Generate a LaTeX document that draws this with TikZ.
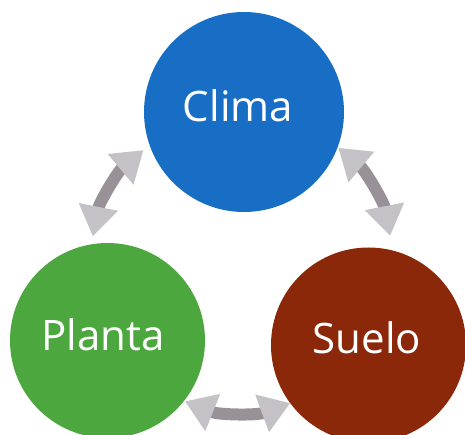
\documentclass[tikz,border=0pt]{standalone}
\usepackage{fontspec}
\setmainfont{Open Sans}
\usetikzlibrary{arrows.meta,calc}
\definecolor{climaC}{RGB}{24,110,196}
\definecolor{plantaC}{RGB}{76,168,62}
\definecolor{sueloC}{RGB}{139,40,10}
\definecolor{headC}{RGB}{196,194,198}
\definecolor{shaftC}{RGB}{152,146,152}
\tikzset{
  ball/.style={circle, inner sep=0pt, minimum size=#1},
  lbl/.style={text=white, font=\fontsize{42}{50}\selectfont, inner sep=0pt},
  dblarrow/.style={draw=shaftC, line width=12pt,
    {Triangle[length=30pt,width=38pt,color=headC]}-{Triangle[length=30pt,width=38pt,color=headC]}}
}
\begin{document}
\begin{tikzpicture}[x=1pt,y=1pt]
\useasboundingbox (0,0) rectangle (465,435);
\fill[white] (0,0) rectangle (465,435);
\node[ball=200pt, fill=climaC] (clima) at (244,323) {};
\node[ball=195pt, fill=plantaC] (planta) at (107.5,94.5) {};
\node[ball=195pt, fill=sueloC] (suelo) at (368.5,90) {};
\node[lbl] (climaT) at (238,329) {Clima};
\node[lbl] (plantaT) at (103,100) {Planta};
\node[lbl] (sueloT) at (367,97) {Suelo};
\coordinate (ctr) at (240,170);
\coordinate (lA) at ($(ctr)+(130:150pt)$);
\coordinate (rA) at ($(ctr)+(50:153pt)$);
\coordinate (bA) at ($(ctr)+(248:147pt)$);
\draw[dblarrow] (lA) arc[start angle=130, end angle=169, radius=150pt];
\draw[dblarrow] (rA) arc[start angle=50, end angle=11, radius=153pt];
\draw[dblarrow] (bA) arc[start angle=248, end angle=290, radius=147pt];
\end{tikzpicture}
\end{document}
